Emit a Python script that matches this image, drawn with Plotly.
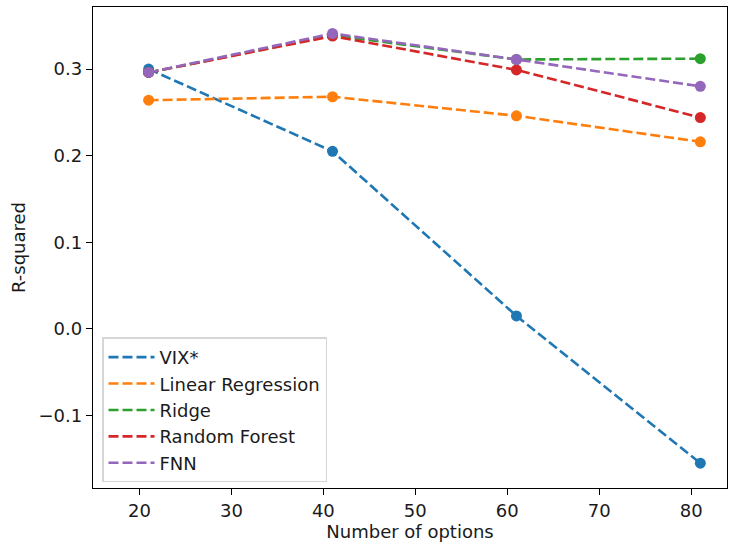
import plotly.graph_objects as go

n_options = [21, 41, 61, 81]
series_names = ["VIX*", "Linear Regression", "Ridge", "Random Forest", "FNN"]
vix = [0.300, 0.205, 0.015, -0.155]
linear_regression = [0.264, 0.268, 0.246, 0.216]
ridge = [0.296, 0.339, 0.311, 0.312]
random_forest = [0.296, 0.338, 0.299, 0.244]
fnn = [0.296, 0.341, 0.311, 0.280]
colors = ["#1f77b4", "#ff7f0e", "#2ca02c", "#d62728", "#9467bd"]

all_series = [vix, linear_regression, ridge, random_forest, fnn]

fig = go.Figure()
for name, vals, c in zip(series_names, all_series, colors):
    fig.add_trace(go.Scatter(x=n_options, y=vals, mode="lines", name=name, legendgroup=name,
                             line=dict(color=c, width=2.6, dash="10px,4px")))
    fig.add_trace(go.Scatter(x=n_options, y=vals, mode="markers", showlegend=False,
                             legendgroup=name,
                             marker=dict(color=c, size=11, line=dict(width=0))))

font = dict(family="DejaVu Sans", size=18, color="#1a1a1a")
fig.update_layout(
    width=729, height=545,
    margin=dict(l=93, r=2, t=7, b=57),
    paper_bgcolor="white", plot_bgcolor="white",
    font=font,
    showlegend=True,
    legend=dict(x=0.0142, y=0.313, xanchor="left", yanchor="top",
                bgcolor="rgba(255,255,255,0.8)", bordercolor="#d6d6d6", borderwidth=1.5,
                font=font, itemwidth=46, tracegroupgap=0, groupclick="toggleitem"),
    xaxis=dict(range=[14.95, 83.9], tickvals=[20, 30, 40, 50, 60, 70, 80],
               showline=True, linecolor="black", linewidth=1.4, mirror=True,
               ticks="outside", ticklen=6, tickwidth=1.4, tickcolor="black",
               showgrid=False, zeroline=False,
               title=dict(text="Number of options", font=font, standoff=2)),
    yaxis=dict(range=[-0.1837, 0.3716], tickvals=[-0.1, 0.0, 0.1, 0.2, 0.3],
               ticktext=["\u22120.1", "0.0", "0.1", "0.2", "0.3"],
               showline=True, linecolor="black", linewidth=1.4, mirror=True,
               ticks="outside", ticklen=6, tickwidth=1.4, tickcolor="black",
               showgrid=False, zeroline=False,
               title=dict(text="R-squared", font=font, standoff=8)),
)
fig.write_html("out.html", config={"displayModeBar": False},
               post_script="document.body.style.margin='0px';")
